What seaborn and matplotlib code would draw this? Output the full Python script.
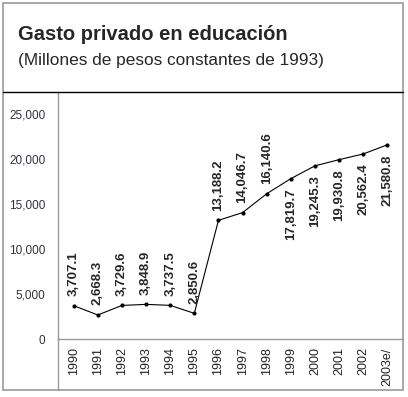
import numpy as np
import pandas as pd
import seaborn as sns
import matplotlib.pyplot as plt
from matplotlib.lines import Line2D
from matplotlib.patches import Rectangle

years = ['1990', '1991', '1992', '1993', '1994', '1995', '1996',
         '1997', '1998', '1999', '2000', '2001', '2002', '2003e/']
gasto = [3707.1, 2668.3, 3729.6, 3848.9, 3737.5, 2850.6, 13188.2,
         14046.7, 16140.6, 17819.7, 19245.3, 19930.8, 20562.4, 21580.8]
label_below = [False] * 9 + [True] * 5

sns.set_style('white')
plt.rcParams['font.family'] = ['Liberation Sans', 'DejaVu Sans']

W, H = 408, 397
fig = plt.figure(figsize=(W / 100, H / 100), dpi=100)

# plot area: y axis at x=58, zero line at y=339, top at the black rule (y=92)
ax = fig.add_axes([58 / W, (H - 339) / H, (403 - 58) / W, (339 - 92) / H])

df = pd.DataFrame({'x': np.arange(len(years)), 'y': gasto})
sns.lineplot(data=df, x='x', y='y', ax=ax, color='black', linewidth=0.8,
             marker='o', markersize=3, markeredgewidth=0)

for i, v in enumerate(gasto):
    if label_below[i]:
        ax.annotate(f'{v:,.1f}', (i, v), xytext=(0, -7), textcoords='offset points',
                    rotation=90, ha='center', va='top', fontsize=9.5, fontweight='bold')
    else:
        ax.annotate(f'{v:,.1f}', (i, v), xytext=(0, 7), textcoords='offset points',
                    rotation=90, ha='center', va='bottom', fontsize=9.5, fontweight='bold')

ax.set_xlim(-0.65, 13.65)
ax.set_ylim(0, 27450)
ax.set_yticks([0, 5000, 10000, 15000, 20000, 25000])
ax.set_yticklabels(['0', '5,000', '10,000', '15,000', '20,000', '25,000'],
                   fontsize=8.5, color='#333340')
ax.set_xticks(range(len(years)))
ax.set_xticklabels(years, rotation=90, fontsize=9, color='#222222')
ax.tick_params(axis='both', length=0)
ax.tick_params(axis='x', pad=6)
ax.tick_params(axis='y', pad=9)
ax.set_xlabel('')
ax.set_ylabel('')
for s in ['top', 'right']:
    ax.spines[s].set_visible(False)
for s in ['left', 'bottom']:
    ax.spines[s].set_color('#999999')
    ax.spines[s].set_linewidth(1)

# outer frame and separators
fig.add_artist(Rectangle((3 / W, (H - 390) / H), 400 / W, 387 / H,
                         transform=fig.transFigure, fill=False,
                         edgecolor='#999999', linewidth=1.2))
fig.add_artist(Line2D([3 / W, 403 / W], [(H - 92) / H] * 2,
                      transform=fig.transFigure, color='black', linewidth=1))
fig.add_artist(Line2D([58 / W, 58 / W], [(H - 390) / H, (H - 339) / H],
                      transform=fig.transFigure, color='#999999', linewidth=1))

fig.text(18 / W, 1 - 35 / H, 'Gasto privado en educación', fontsize=14.5,
         fontweight='bold', va='center', ha='left')
fig.text(18 / W, 1 - 60 / H, '(Millones de pesos constantes de 1993)',
         fontsize=12.4, va='center', ha='left')

fig.savefig('out.png', dpi=100)
